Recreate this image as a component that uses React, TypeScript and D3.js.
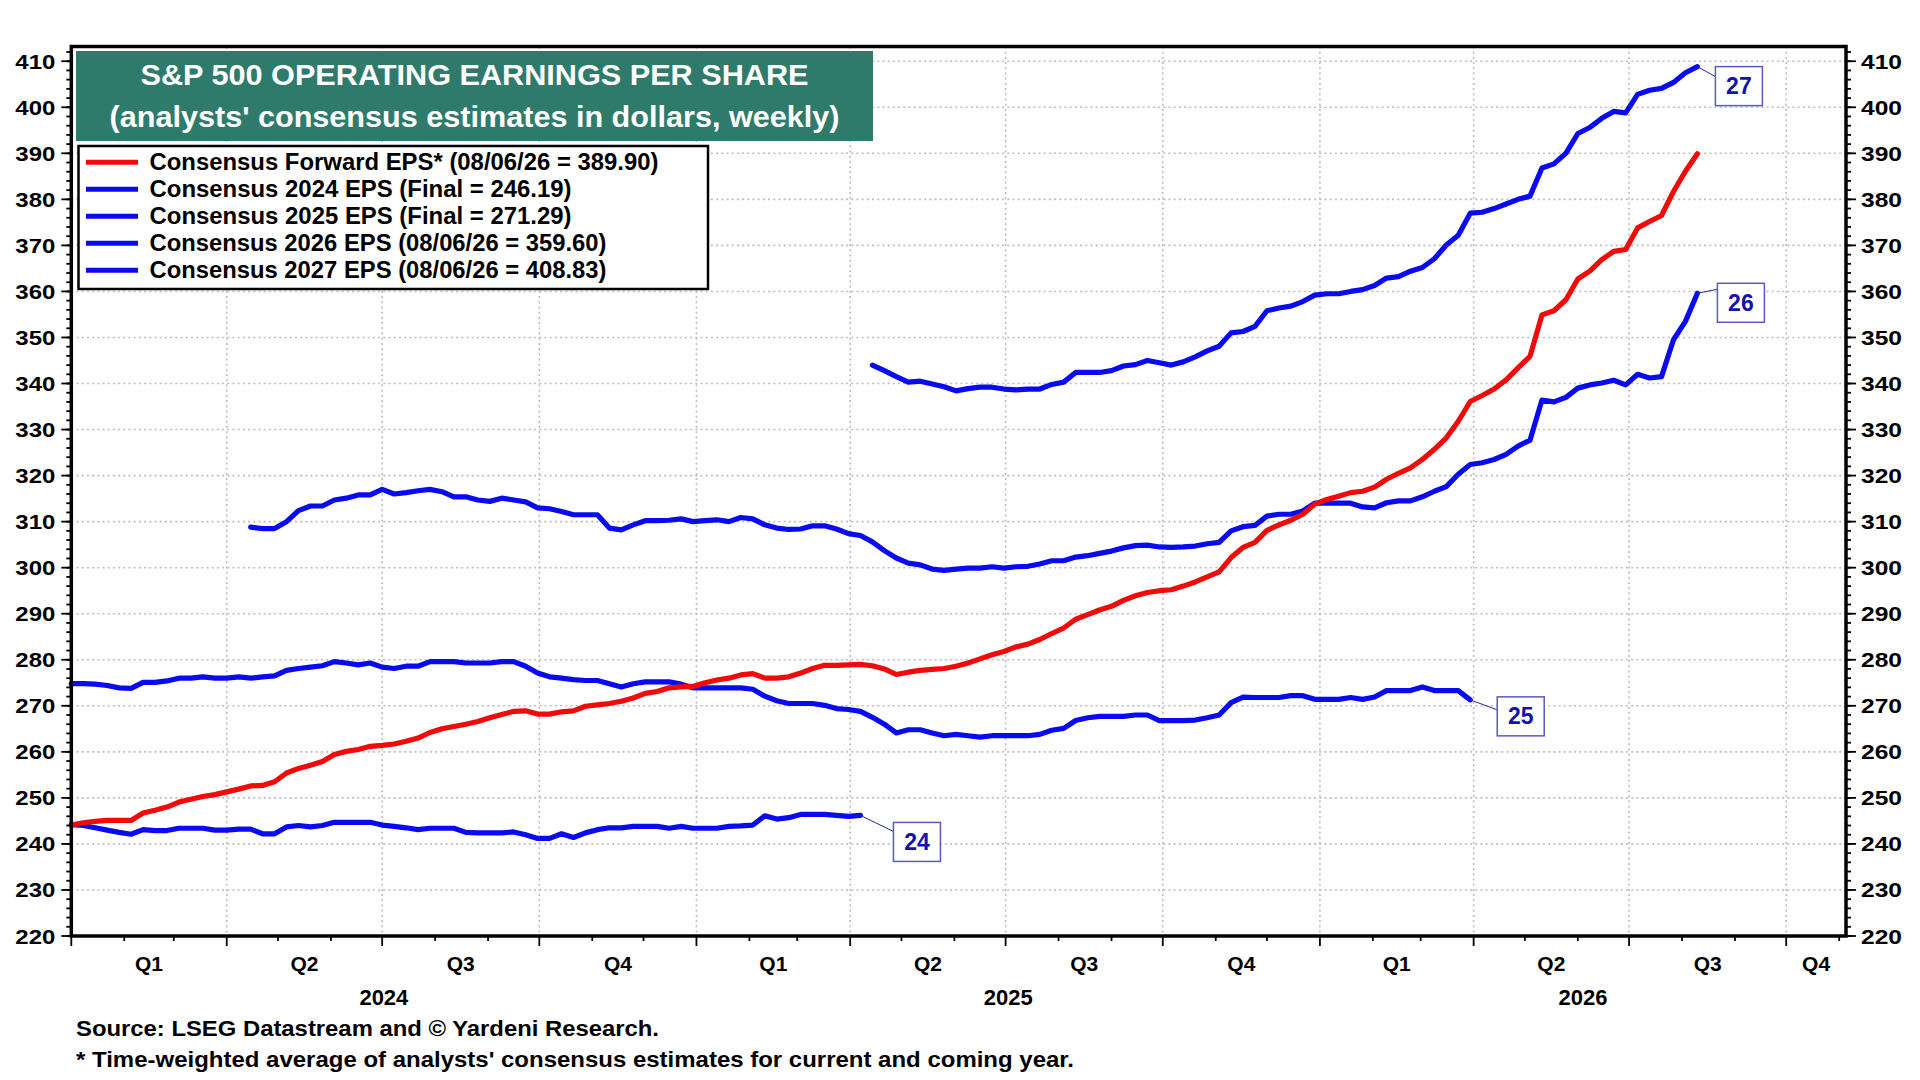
import React from 'react';
import * as d3 from 'd3';

// ---------- DATA (weekly) ----------
// week index 0 = first weekly observation plotted at 2024-01-01
const WEEK0 = Date.UTC(2024, 0, 1);

const forwardStartWeek = 0;
const forwardEPS = [
  244.1, 244.6, 244.9, 245.1, 245.1, 245.1, 246.7, 247.3, 248.0, 249.1,
  249.7, 250.3, 250.7, 251.3, 251.9, 252.6, 252.7, 253.5, 255.4, 256.4,
  257.1, 257.9, 259.4, 260.1, 260.5, 261.2, 261.4, 261.7, 262.3, 263.0,
  264.2, 265.0, 265.5, 266.0, 266.6, 267.4, 268.1, 268.8, 268.9, 268.2,
  268.2, 268.7, 268.9, 269.9, 270.2, 270.5, 271.0, 271.7, 272.7, 273.1,
  273.9, 274.1, 274.2, 275.0, 275.6, 276.0, 276.7, 277.0, 276.0, 276.0,
  276.3, 277.1, 278.1, 278.8, 278.8, 278.9, 279.0, 278.7, 278.0, 276.8,
  277.3, 277.7, 277.9, 278.1, 278.6, 279.3, 280.2, 281.1, 281.8, 282.8,
  283.4, 284.4, 285.7, 286.9, 288.8, 289.8, 290.8, 291.6, 292.9, 293.9,
  294.6, 295.0, 295.2, 296.0, 296.9, 298.0, 299.1, 302.2, 304.4, 305.5,
  308.1, 309.3, 310.3, 311.6, 313.8, 314.8, 315.5, 316.3, 316.6, 317.5,
  319.2, 320.5, 321.7, 323.5, 325.7, 328.2, 331.8, 336.1, 337.4, 338.8,
  340.8, 343.4, 345.9, 354.9, 355.8, 358.2, 362.7, 364.4, 366.9, 368.7,
  369.1, 373.8, 375.2, 376.5, 381.7, 386.1, 389.9,
];

const eps2024StartWeek = 0;
const eps2024 = [
  244.2, 244.0, 243.5, 243.0, 242.5, 242.1, 243.1, 242.9, 242.9, 243.4,
  243.4, 243.4, 243.0, 243.0, 243.2, 243.2, 242.2, 242.2, 243.7, 244.0,
  243.7, 244.0, 244.7, 244.7, 244.7, 244.7, 244.1, 243.8, 243.5, 243.1,
  243.4, 243.4, 243.4, 242.5, 242.4, 242.4, 242.4, 242.6, 242.0, 241.2,
  241.2, 242.2, 241.4, 242.4, 243.1, 243.5, 243.5, 243.8, 243.8, 243.8,
  243.4, 243.8, 243.4, 243.4, 243.4, 243.8, 243.9, 244.1, 246.1, 245.4,
  245.7, 246.4, 246.4, 246.4, 246.2, 246.0, 246.19,
];

const eps2025StartWeek = 0;
const eps2025 = [
  274.8, 274.8, 274.7, 274.4, 273.9, 273.8, 275.1, 275.1, 275.4, 276.0,
  276.0, 276.3, 276.0, 276.0, 276.3, 276.0, 276.3, 276.5, 277.7, 278.1,
  278.4, 278.7, 279.6, 279.3, 278.9, 279.3, 278.4, 278.1, 278.6, 278.6,
  279.6, 279.6, 279.6, 279.3, 279.3, 279.3, 279.6, 279.6, 278.6, 277.1,
  276.3, 276.0, 275.7, 275.5, 275.5, 274.8, 274.1, 274.8, 275.2, 275.2,
  275.2, 274.7, 273.9, 273.9, 273.9, 273.9, 273.9, 273.6, 272.1, 271.1,
  270.5, 270.5, 270.5, 270.1, 269.4, 269.2, 268.8, 267.5, 266.0, 264.1,
  264.8, 264.8, 264.1, 263.5, 263.8, 263.5, 263.2, 263.5, 263.5, 263.5,
  263.5, 263.8, 264.7, 265.1, 266.8, 267.4, 267.7, 267.7, 267.7, 268.0,
  268.0, 266.8, 266.8, 266.8, 266.9, 267.4, 268.0, 270.7, 271.9, 271.8,
  271.8, 271.8, 272.2, 272.2, 271.4, 271.4, 271.4, 271.8, 271.4, 271.9,
  273.3, 273.3, 273.3, 274.1, 273.3, 273.3, 273.3, 271.29,
];

const eps2026StartWeek = 15;
const eps2026 = [
  308.8, 308.5, 308.5, 310.0, 312.4,
  313.4, 313.4, 314.7, 315.1, 315.8, 315.8, 317.0, 316.0, 316.3, 316.7,
  317.0, 316.5, 315.4, 315.4, 314.7, 314.4, 315.1, 314.7, 314.3, 313.0,
  312.8, 312.2, 311.5, 311.5, 311.5, 308.6, 308.2, 309.3, 310.2, 310.2,
  310.3, 310.6, 310.0, 310.2, 310.4, 310.0, 310.9, 310.6, 309.3, 308.6,
  308.3, 308.4, 309.1, 309.1, 308.4, 307.4, 307.0, 305.6, 303.7, 302.1,
  301.0, 300.6, 299.7, 299.4, 299.7, 299.9, 299.9, 300.2, 299.9, 300.2,
  300.3, 300.8, 301.5, 301.5, 302.3, 302.6, 303.1, 303.6, 304.3, 304.8,
  304.9, 304.5, 304.4, 304.5, 304.7, 305.2, 305.5, 308.0, 308.9, 309.2,
  311.2, 311.6, 311.6, 312.3, 314.0, 314.0, 314.0, 314.0, 313.2, 313.0,
  314.1, 314.5, 314.5, 315.4, 316.6, 317.6, 320.3, 322.4, 322.8, 323.5,
  324.6, 326.4, 327.7, 336.4, 336.0, 337.0, 339.0, 339.7, 340.1, 340.7,
  339.7, 342.0, 341.2, 341.5, 349.5, 353.5, 359.6,
];

const eps2027StartWeek = 67;
const eps2027 = [
  344.0, 342.8, 341.5,
  340.3, 340.5, 339.9, 339.3, 338.4, 338.9, 339.2, 339.2, 338.8, 338.6,
  338.8, 338.8, 339.8, 340.3, 342.4, 342.4, 342.4, 342.8, 343.8, 344.1,
  345.0, 344.5, 344.0, 344.7, 345.8, 347.1, 348.1, 351.0, 351.3, 352.4,
  355.8, 356.4, 356.8, 357.8, 359.2, 359.5, 359.5, 360.0, 360.4, 361.3,
  362.9, 363.2, 364.4, 365.2, 367.1, 370.1, 372.2, 377.0, 377.2, 378.0,
  379.0, 380.0, 380.7, 386.8, 387.7, 390.0, 394.3, 395.6, 397.6, 399.1,
  398.8, 402.8, 403.7, 404.1, 405.4, 407.5, 408.83,
];

const legendLabels = [
  'Consensus Forward EPS* (08/06/26 = 389.90)',
  'Consensus 2024 EPS (Final = 246.19)',
  'Consensus 2025 EPS (Final = 271.29)',
  'Consensus 2026 EPS (08/06/26 = 359.60)',
  'Consensus 2027 EPS (08/06/26 = 408.83)',
];
const endLabels = ['24', '25', '26', '27'];
const yTicks = d3.range(220, 411, 10);
const titleLines = ['S&P 500 OPERATING EARNINGS PER SHARE', "(analysts' consensus estimates in dollars, weekly)"];
const footnotes = [
  'Source: LSEG Datastream and \u00A9 Yardeni Research.',
  "* Time-weighted average of analysts' consensus estimates for current and coming year.",
];

// ---------- LAYOUT / STYLE ----------
const W = 1920, H = 1080;
const L = 71.3, R = 1846, T = 46.5, B = 936;
const RED = '#f00a0a';
const BLUE = '#0a0af0';
const FONT = '"Liberation Sans", Arial, Helvetica, sans-serif';
// rendered text widths in the reference (the original font is a little wider than Arial)
const legendTextWidths = [509, 422, 422, 457, 457];
const titleTextWidths = [668, 730];
const footTextWidths = [583, 998];

const DAY = 86400000;
const weekDate = (k: number) => new Date(WEEK0 + k * 7 * DAY);

const x = d3.scaleUtc().domain([new Date(Date.UTC(2024, 0, 1)), new Date(Date.UTC(2026, 10, 5))]).range([L, R]);
const y = d3.scaleLinear().domain([220, 413.2]).range([B, T]);

type Series = { start: number; values: number[]; color: string };
const series: Series[] = [
  { start: eps2024StartWeek, values: eps2024, color: BLUE },
  { start: eps2025StartWeek, values: eps2025, color: BLUE },
  { start: eps2026StartWeek, values: eps2026, color: BLUE },
  { start: eps2027StartWeek, values: eps2027, color: BLUE },
  { start: forwardStartWeek, values: forwardEPS, color: RED },
];
const legendColors = [RED, BLUE, BLUE, BLUE, BLUE];

function pathFor(s: Series) {
  const line = d3
    .line<number>()
    .x((_, i) => x(weekDate(s.start + i)))
    .y((d) => y(d));
  return line(s.values) || '';
}

function lastPoint(s: Series) {
  const i = s.values.length - 1;
  return { px: x(weekDate(s.start + i)), py: y(s.values[i]) };
}

// label box offsets relative to each series' last point
const labelOffsets = [
  { dx: 33, dy: 7, ly: 9 },
  { dx: 27, dy: -3, ly: 13 },
  { dx: 20, dy: -10, ly: 6 },
  { dx: 18, dy: 0, ly: 10 },
];

export default function App() {
  const quarterStarts = d3.utcMonth.every(3)!.range(new Date(Date.UTC(2024, 0, 1)), new Date(Date.UTC(2026, 10, 6)));
  const monthStarts = d3.utcMonth.range(new Date(Date.UTC(2024, 0, 1)), new Date(Date.UTC(2026, 10, 6)));
  const years = [2024, 2025, 2026];
  const minorY = d3.range(220, 413, 2);

  return (
    <svg
      width={W}
      height={H}
      viewBox={`0 0 ${W} ${H}`}
      style={{ position: 'absolute', left: 0, top: 0, background: '#fff' }}
      fontFamily={FONT}
      fontWeight="bold"
    >
      <rect x={0} y={0} width={W} height={H} fill="#fff" />

      {/* grid */}
      <g stroke="#bdbdbd" strokeWidth={1.6} strokeDasharray="2 3.2">
        {yTicks.filter((v) => v > 220).map((v) => (
          <line key={'gy' + v} x1={L} x2={R} y1={y(v)} y2={y(v)} />
        ))}
        {quarterStarts.filter((d) => +d > +quarterStarts[0]).map((d) => (
          <line key={'gx' + +d} x1={x(d)} x2={x(d)} y1={T} y2={B} />
        ))}
      </g>

      {/* series */}
      <g fill="none" strokeWidth={5.2} strokeLinejoin="round" strokeLinecap="round">
        {series.map((s, i) => (
          <path key={'s' + i} d={pathFor(s)} stroke={s.color} />
        ))}
      </g>

      {/* end labels */}
      {series.slice(0, 4).map((s, i) => {
        const { px, py } = lastPoint(s);
        const o = labelOffsets[i];
        const bx = px + o.dx, by = py + o.dy, bw = 47, bh = 39;
        return (
          <g key={'lab' + i}>
            <line x1={px} y1={py} x2={bx} y2={by + o.ly} stroke="#2a2a9a" strokeWidth={1} />
            <rect x={bx} y={by} width={bw} height={bh} fill="#fff" stroke="#5a5ac0" strokeWidth={1.5} />
            <text x={bx + bw / 2} y={by + bh / 2 + 8} textAnchor="middle" fontSize={23} fill="#1212b0">
              {endLabels[i]}
            </text>
          </g>
        );
      })}

      {/* frame */}
      <rect x={L} y={T} width={R - L} height={B - T} fill="none" stroke="#000" strokeWidth={3.5} />

      {/* axis ticks */}
      <g stroke="#000" strokeWidth={1.8}>
        {minorY.map((v) => (
          <g key={'my' + v}>
            <line x1={L - 5} x2={L} y1={y(v)} y2={y(v)} />
            <line x1={R} x2={R + 5} y1={y(v)} y2={y(v)} />
          </g>
        ))}
        {yTicks.map((v) => (
          <g key={'ty' + v}>
            <line x1={L - 10} x2={L} y1={y(v)} y2={y(v)} />
            <line x1={R} x2={R + 10} y1={y(v)} y2={y(v)} />
          </g>
        ))}
        {monthStarts.map((d) => {
          const q = d.getUTCMonth() % 3 === 0;
          return <line key={'tx' + +d} x1={x(d)} x2={x(d)} y1={B} y2={B + (q ? 10 : 5)} />;
        })}
      </g>

      {/* y labels */}
      <g fontSize={21} fill="#000">
        {yTicks.map((v) => (
          <g key={'yl' + v}>
            <text x={L - 16} y={y(v) + 7.5} textAnchor="end" textLength={40} lengthAdjust="spacingAndGlyphs">{v}</text>
            <text x={R + 15} y={y(v) + 7.5} textAnchor="start" textLength={41} lengthAdjust="spacingAndGlyphs">{v}</text>
          </g>
        ))}
      </g>

      {/* x labels */}
      <g fontSize={21} fill="#000" textAnchor="middle">
        {quarterStarts.map((d) => {
          const next = d3.utcMonth.offset(d, 3);
          const cx = (x(d) + Math.min(x(next), R)) / 2;
          return (
            <text key={'q' + +d} x={cx} y={971}>{'Q' + (Math.floor(d.getUTCMonth() / 3) + 1)}</text>
          );
        })}
      </g>
      <g fontSize={22} fill="#000" textAnchor="middle">
        {years.map((yr) => {
          const a = x(new Date(Date.UTC(yr, 0, 1)));
          const b = Math.min(x(new Date(Date.UTC(yr + 1, 0, 1))), R);
          return <text key={'yr' + yr} x={(a + b) / 2} y={1005}>{yr}</text>;
        })}
      </g>

      {/* title */}
      <rect x={76} y={51} width={797} height={90} fill="#2e7b6c" />
      <text x={474.5} y={85} textAnchor="middle" fontSize={29} fill="#fff" textLength={titleTextWidths[0]} lengthAdjust="spacingAndGlyphs">{titleLines[0]}</text>
      <text x={474.5} y={127} textAnchor="middle" fontSize={29} fill="#fff" textLength={titleTextWidths[1]} lengthAdjust="spacingAndGlyphs">{titleLines[1]}</text>

      {/* legend */}
      <rect x={78.5} y={146} width={629.5} height={143} fill="#fff" stroke="#000" strokeWidth={2.5} />
      {legendLabels.map((lab, i) => {
        const ry = 162.3 + i * 27;
        return (
          <g key={'lg' + i}>
            <line x1={86} x2={138} y1={ry} y2={ry} stroke={legendColors[i]} strokeWidth={5} />
            <text x={149.5} y={ry + 8} fontSize={23} fill="#000" textLength={legendTextWidths[i]} lengthAdjust="spacingAndGlyphs">{lab}</text>
          </g>
        );
      })}

      {/* footnotes */}
      <text x={76} y={1036} fontSize={21.5} fill="#000" textLength={footTextWidths[0]} lengthAdjust="spacingAndGlyphs">{footnotes[0]}</text>
      <text x={76} y={1067} fontSize={21.5} fill="#000" textLength={footTextWidths[1]} lengthAdjust="spacingAndGlyphs">{footnotes[1]}</text>
    </svg>
  );
}
